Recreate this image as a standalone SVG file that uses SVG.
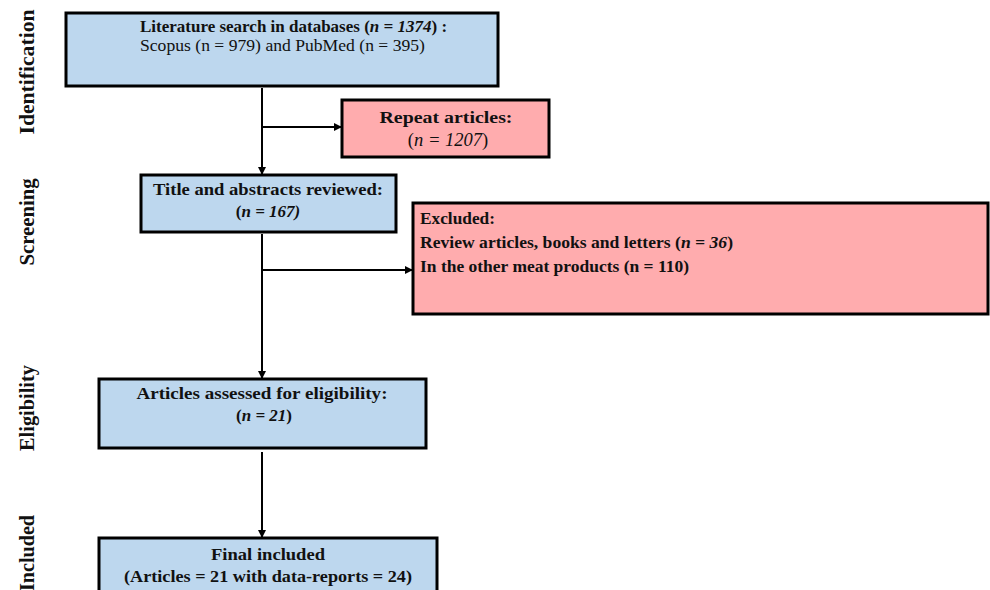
<svg xmlns="http://www.w3.org/2000/svg" width="990" height="590" viewBox="0 0 990 590">
<style>
.blue{fill:#BDD7EE;stroke:#000;stroke-width:3}
.pink{fill:#FFACAE;stroke:#000;stroke-width:3}
text{font-family:"Liberation Serif","Times New Roman",serif;font-size:17px;fill:#111}
.b{font-weight:bold}
.c{text-anchor:middle}
.i{font-style:italic}
.side{font-size:20px;font-weight:bold;text-anchor:middle}
.ln{stroke:#000;stroke-width:2;fill:none}
</style>
<defs>
<marker id="ah" markerWidth="8" markerHeight="8" refX="7" refY="4" orient="auto" markerUnits="userSpaceOnUse">
<path d="M0,0 L8,4 L0,8 z" fill="#000"/>
</marker>
</defs>
<g id="labels">
<text class="side" transform="translate(34,72) rotate(-90)" textLength="125" lengthAdjust="spacingAndGlyphs">Identification</text>
<text class="side" transform="translate(34,222) rotate(-90)" textLength="87" lengthAdjust="spacingAndGlyphs">Screening</text>
<text class="side" transform="translate(34,408) rotate(-90)" textLength="86" lengthAdjust="spacingAndGlyphs">Eligibility</text>
<text class="side" transform="translate(34,553) rotate(-90)" textLength="76" lengthAdjust="spacingAndGlyphs">Included</text>
</g>
<g id="connectors">
<path class="ln" d="M262,88 V174" marker-end="url(#ah)"/>
<path class="ln" d="M262,127 H341" marker-end="url(#ah)"/>
<path class="ln" d="M262,234 V378" marker-end="url(#ah)"/>
<path class="ln" d="M262,270 H412" marker-end="url(#ah)"/>
<path class="ln" d="M262,452 V537" marker-end="url(#ah)"/>
</g>
<g id="n1">
<rect class="blue" x="66" y="13" width="432" height="73"/>
<text x="140" y="32" class="b">Literature search in databases (<tspan class="i">n = 1374</tspan>) :</text>
<text x="140" y="51" textLength="285" lengthAdjust="spacingAndGlyphs">Scopus (n = 979) and PubMed (n = 395)</text>
</g>
<g id="n2">
<rect class="pink" x="342" y="100" width="207" height="57"/>
<text x="446" y="123" class="b c" textLength="133" lengthAdjust="spacingAndGlyphs">Repeat articles:</text>
<text x="448" y="146" class="c" style="font-size:18.5px">(<tspan class="i">n = 1207</tspan>)</text>
</g>
<g id="n3">
<rect class="blue" x="141" y="175" width="255" height="57"/>
<text x="268" y="195" class="b c" textLength="230" lengthAdjust="spacingAndGlyphs">Title and abstracts reviewed:</text>
<text x="268" y="217" class="b c">(<tspan class="i">n = 167)</tspan></text>
</g>
<g id="n4">
<rect class="pink" x="413" y="203" width="575" height="111"/>
<text x="420" y="224" class="b" textLength="75" lengthAdjust="spacingAndGlyphs">Excluded:</text>
<text x="420" y="248" class="b" style="font-size:17.6px">Review articles, books and letters (<tspan class="i">n = 36</tspan>)</text>
<text x="420" y="272" class="b" textLength="269" lengthAdjust="spacingAndGlyphs">In the other meat products (n = 110)</text>
</g>
<g id="n5">
<rect class="blue" x="99" y="379" width="327" height="69"/>
<text x="262" y="399" class="b c" textLength="251" lengthAdjust="spacingAndGlyphs">Articles  assessed for eligibility:</text>
<text x="264" y="421" class="b c">(<tspan class="i">n = 21</tspan>)</text>
</g>
<g id="n6">
<rect class="blue" x="99" y="538" width="338" height="60"/>
<text x="268" y="560" class="b c" textLength="114" lengthAdjust="spacingAndGlyphs">Final included</text>
<text x="268" y="582" class="b c" textLength="288" lengthAdjust="spacingAndGlyphs">(Articles = 21 with data-reports = 24)</text>
</g>
</svg>
